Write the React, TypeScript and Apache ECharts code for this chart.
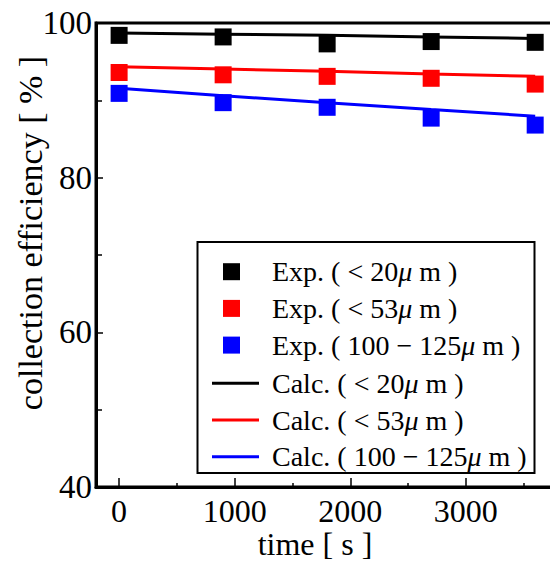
import React, { useEffect, useRef } from "react";
import * as echarts from "echarts";

const times = [0, 900, 1800, 2700, 3600];
const expLt20 = [98.4, 98.2, 97.3, 97.6, 97.5];
const expLt53 = [93.6, 93.3, 93.1, 92.85, 92.1];
const exp100to125 = [90.9, 89.7, 89.1, 87.7, 86.8];
const calcLt20 = [98.7, 98.55, 98.4, 98.2, 98.0];
const calcLt53 = [94.35, 94.05, 93.75, 93.4, 93.1];
const calc100to125 = [91.55, 90.6, 89.7, 88.8, 87.95];

const xMajorTicks = [0, 1000, 2000, 3000];
const xMinorTicks = [500, 1500, 2500, 3500];

const expNames = ["Exp. ( < 20 μ m )", "Exp. ( < 53 μ m )", "Exp. ( 100 − 125 μ m )"];
const calcNames = ["Calc. ( < 20 μ m )", "Calc. ( < 53 μ m )", "Calc. ( 100 − 125 μ m )"];
const colors = ["#000000", "#ff0000", "#0000ff"];

const FONT = "'Liberation Serif', 'Times New Roman', serif";

const pairs = (vals: number[]) => times.map((t, i) => [t, vals[i]]);

export default function App() {
  const ref = useRef<HTMLDivElement>(null);
  useEffect(() => {
    if (!ref.current) return;
    const chart = echarts.init(ref.current, undefined, { renderer: "svg" });
    const expVals = [expLt20, expLt53, exp100to125];
    const calcVals = [calcLt20, calcLt53, calc100to125];
    const legendText = {
      fontFamily: FONT,
      fontSize: 28,
      color: "#000",
      lineHeight: 28,
      rich: {
        i: { fontFamily: FONT, fontSize: 28, fontStyle: "italic", color: "#000", lineHeight: 28 },
      },
    };
    const fmt = (name: string) => name.replace(" μ", "{i|μ}");
    chart.setOption({
      animation: false,
      backgroundColor: "#fff",
      grid: {
        left: 96,
        right: 565 - 558.3,
        top: 23,
        bottom: 74,
        show: true,
        borderColor: "#000",
        borderWidth: 3,
        backgroundColor: "transparent",
      },
      xAxis: [
        {
          type: "value",
          min: -200,
          max: 3800,
          axisLine: { show: true, onZero: false, lineStyle: { color: "#000", width: 3 } },
          axisTick: { show: true, inside: true, length: 9, customValues: xMajorTicks, lineStyle: { color: "#000", width: 1.5 } },
          axisLabel: { customValues: xMajorTicks, formatter: (v: number) => String(v), fontFamily: FONT, fontSize: 32, color: "#000", margin: 8 },
          splitLine: { show: false },
        },
        {
          type: "value",
          min: -200,
          max: 3800,
          position: "bottom",
          axisLine: { show: false, onZero: false },
          axisTick: { show: true, inside: true, length: 4, customValues: xMinorTicks, lineStyle: { color: "#000", width: 1.5 } },
          axisLabel: { show: false },
          splitLine: { show: false },
        },
      ],
      yAxis: {
        type: "value",
        min: 40,
        max: 100,
        interval: 20,
        axisLine: { show: true, onZero: false, lineStyle: { color: "#000", width: 3 } },
        axisTick: { show: true, inside: true, length: 7, lineStyle: { color: "#000", width: 1.5 } },
        minorTick: { show: true, splitNumber: 2, length: 6, lineStyle: { color: "#000", width: 1.5 } },
        axisLabel: { fontFamily: FONT, fontSize: 33, color: "#000", margin: 4 },
        splitLine: { show: false },
      },
      legend: [
        {
          orient: "vertical",
          left: 223,
          top: 257.7,
          padding: 0,
          itemWidth: 17,
          itemHeight: 17,
          itemGap: 8.7,
          icon: "rect",
          data: expNames,
          formatter: fmt,
          textStyle: { ...legendText, padding: [0, 0, 0, 27] },
        },
        {
          orient: "vertical",
          left: 212,
          top: 369.3,
          padding: 0,
          itemWidth: 47,
          itemHeight: 3,
          itemGap: 8.7,
          icon: "rect",
          data: calcNames,
          formatter: fmt,
          textStyle: { ...legendText, padding: [0, 0, 0, 8] },
        },
      ],
      graphic: [
        {
          type: "rect",
          shape: { x: 197.5, y: 242, width: 337, height: 231 },
          style: { fill: "none", stroke: "#000", lineWidth: 2 },
          z: 1,
        },
        {
          type: "text",
          x: 315,
          y: 544,
          style: { text: "time [ s ]", font: `32px ${FONT}`, fill: "#000", textAlign: "center", textVerticalAlign: "middle" },
        },
        {
          type: "text",
          x: 30,
          y: 233,
          rotation: Math.PI / 2,
          style: { text: "collection efficiency [ % ]", font: `34px ${FONT}`, fill: "#000", textAlign: "center", textVerticalAlign: "middle" },
        },
      ],
      series: [
        ...calcNames.map((name, i) => ({
          name,
          type: "line",
          data: pairs(calcVals[i]),
          symbol: "none",
          showSymbol: false,
          z: 2,
          lineStyle: { color: colors[i], width: 3 },
          itemStyle: { color: colors[i] },
        })),
        ...expNames.map((name, i) => ({
          name,
          type: "scatter",
          data: pairs(expVals[i]),
          symbol: "rect",
          symbolSize: 17,
          z: 3,
          itemStyle: { color: colors[i], opacity: 1 },
        })),
      ],
    });
    return () => chart.dispose();
  }, []);
  return (
    <div style={{ position: "fixed", left: 0, top: 0, width: 550, height: 561, overflow: "hidden", background: "#fff" }}>
      <div ref={ref} style={{ width: 565, height: 561 }} />
    </div>
  );
}
